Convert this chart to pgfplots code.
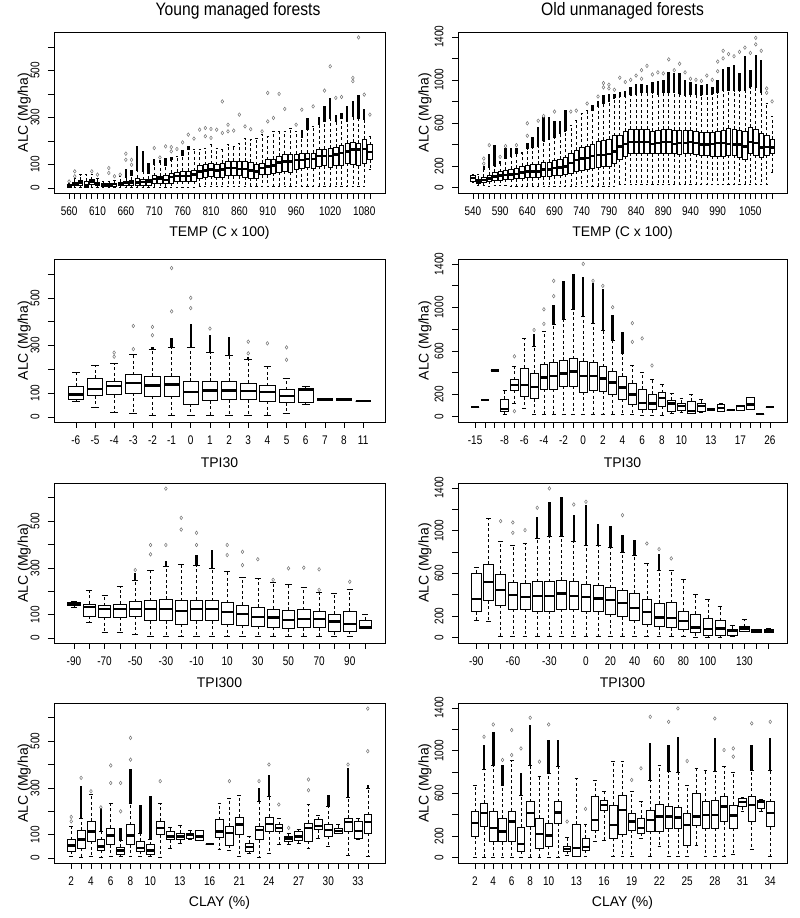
\documentclass[border=0pt]{standalone}
\usepackage{fontspec}
\setmainfont{Liberation Sans}
\newfontfamily\tickfont{Liberation Sans}[FakeStretch=0.8]
\newfontfamily\titlefont{Liberation Sans}[FakeStretch=0.87]
\usepackage{pgfplots}
\usepackage{pgfplotstable}
\pgfplotsset{compat=1.18}
\usepgfplotslibrary{statistics}

% ---------- data: x lw q1 med q3 uw dense-top outlier1 outlier2 ----------
\pgfplotstableread{
x lw q1 med q3 uw dhi o1 o2
1 3 4 10 17 21 21 28 nan
2 5 11 18 26 40 40 71 50
3 5 11 24 33 57 57 nan nan
4 2 4 10 28 57 57 nan nan
5 5 14 27 35 57 57 71 nan
6 4 10 17 24 43 43 57 nan
7 4 8 13 18 28 28 nan nan
8 4 8 13 18 30 30 85 64
9 4 8 16 20 35 35 50 nan
10 4 10 17 24 50 50 57 nan
11 4 10 21 28 45 80 146 120
12 4 10 24 33 55 78 120 99
13 5 10 24 43 75 177 nan nan
14 5 10 26 35 70 156 nan nan
15 5 12 28 38 64 106 nan nan
16 5 18 38 52 100 125 170 nan
17 5 21 40 50 110 120 130 nan
18 5 18 35 52 95 128 177 nan
19 5 21 47 64 120 130 174 156
20 5 28 50 67 135 135 166 nan
21 5 28 50 71 140 160 194 nan
22 5 28 50 71 163 180 227 nan
23 5 28 57 74 163 163 210 nan
24 8 43 71 95 163 163 248 nan
25 8 47 74 99 170 170 255 220
26 8 50 78 103 184 184 251 213
27 8 47 75 99 170 170 248 nan
28 8 47 78 106 163 163 368 234
29 8 52 85 113 184 184 269 241
30 8 52 85 113 177 177 244 nan
31 8 52 82 113 191 191 312 nan
32 8 47 81 113 210 210 262 nan
33 8 43 74 109 206 206 250 nan
34 8 43 71 99 213 213 nan nan
35 8 57 85 106 227 227 241 nan
36 8 57 92 120 220 220 404 283
37 8 64 95 123 241 241 298 nan
38 8 67 109 135 241 241 400 nan
39 8 71 113 145 241 241 336 nan
40 8 67 113 142 255 255 nan nan
41 8 78 120 145 241 241 269 nan
42 8 85 120 149 215 248 333 nan
43 8 88 123 149 248 298 nan nan
44 8 85 123 149 262 262 347 nan
45 8 92 135 163 269 300 nan nan
46 8 95 135 166 283 347 414 nan
47 8 90 137 170 298 383 517 nan
48 8 95 142 174 283 310 383 nan
49 8 95 149 180 298 320 387 nan
50 8 106 156 191 283 347 nan nan
51 8 99 163 194 305 368 454 468
52 8 95 163 191 298 397 640 nan
53 8 103 166 208 291 336 397 nan
54 78 120 152 184 220 220 312 nan
}\tA

\pgfplotstableread{
x lw q1 med q3 uw dhi o1 o2
1 50 59 87 112 122 122 nan nan
2 20 34 56 78 122 122 nan nan
3 15 45 70 95 170 200 268 221
4 10 55 84 115 190 315 393 nan
5 15 65 102 140 200 393 nan nan
6 15 70 109 145 220 250 284 nan
7 15 75 115 160 270 362 384 nan
8 10 75 121 170 290 362 nan nan
9 10 80 127 180 320 370 393 nan
10 10 85 140 200 315 330 nan nan
11 10 90 146 205 360 410 596 480
12 10 90 149 210 370 470 nan nan
13 10 95 149 215 380 565 620 nan
14 10 100 165 230 430 658 664 nan
15 10 100 165 235 450 658 nan nan
16 10 110 180 250 470 620 705 nan
17 10 115 186 260 500 620 nan nan
18 10 120 196 275 520 720 nan nan
19 10 130 226 320 580 580 705 nan
20 10 150 257 345 620 620 714 nan
21 10 160 270 370 690 690 nan nan
22 10 170 276 380 720 720 780 nan
23 10 180 290 400 720 767 nan nan
24 10 190 301 430 750 800 845 nan
25 10 200 304 440 780 860 970 930
26 10 200 313 450 800 870 955 920
27 10 220 335 480 830 870 908 nan
28 25 260 382 480 845 890 1020 nan
29 25 290 406 520 850 900 980 nan
30 25 320 420 540 860 930 1000 nan
31 25 320 420 540 870 960 1040 nan
32 25 320 420 540 880 960 1090 1010
33 25 320 420 540 880 950 1130 nan
34 25 315 404 520 880 980 1050 nan
35 25 320 413 530 870 990 1070 nan
36 25 320 420 540 880 1000 1060 nan
37 25 320 420 540 880 1070 1190 nan
38 25 315 404 530 880 1060 1090 nan
39 25 310 413 530 870 1060 1150 nan
40 25 315 413 530 860 1000 1070 nan
41 25 320 420 530 870 980 1010 nan
42 25 310 413 520 870 960 1000 nan
43 25 300 398 510 860 950 990 nan
44 25 300 398 510 870 960 1040 nan
45 25 290 404 510 870 930 1000 nan
46 25 290 413 520 880 1000 1170 1080
47 25 290 413 530 900 1100 1270 1200
48 25 300 404 550 900 1120 1240 nan
49 25 300 398 540 900 1140 1220 nan
50 25 280 398 530 900 1060 1260 nan
51 25 260 382 520 900 1220 1300 nan
52 25 320 420 560 930 1090 1250 nan
53 25 300 413 540 930 1230 1390 1330
54 25 280 371 500 880 1180 1270 nan
55 30 300 376 480 780 780 920 880
56 140 320 371 450 660 660 800 nan
}\tB

\pgfplotstableread{
x lw q1 med q3 uw dhi o1 o2
1 66 76 94 129 188 188 nan nan
2 39 90 118 163 216 216 nan nan
3 18 94 129 150 226 226 270 253
4 14 101 143 177 265 265 382 285
5 8 87 132 170 285 295 378 343
6 8 87 137 170 292 330 625 443
7 8 55 105 150 292 392 500 457
8 8 69 111 150 270 343 371 nan
9 8 73 112 150 260 336 nan nan
10 8 73 108 143 244 250 316 267
11 8 66 105 132 212 212 309 nan
12 14 60 87 115 163 163 292 240
13 53 62 115 122 129 129 nan nan
14 73 73 73 73 73 73 nan nan
15 73 73 73 73 73 73 nan nan
16 66 66 66 66 66 66 nan nan
}\tC

\pgfplotstableread{
x lw q1 med q3 uw dhi o1 o2
1 87 87 87 87 87 87 nan nan
2 149 149 149 149 149 149 nan nan
3 420 420 420 420 420 420 nan nan
4 16 45 68 156 240 240 nan nan
5 118 240 286 336 457 457 551 47
6 72 180 286 445 716 716 nan nan
7 16 162 268 395 647 756 793 nan
8 16 249 358 476 784 784 849 983
9 16 249 373 498 849 1027 1244 1104
10 16 274 395 513 893 1244 nan nan
11 16 274 411 529 980 1307 nan nan
12 16 224 373 504 918 1276 1400 nan
13 16 240 373 492 856 1229 1244 nan
14 16 233 348 457 793 1167 1198 nan
15 16 202 311 417 700 933 1002 nan
16 16 156 264 367 576 778 nan nan
17 16 109 202 305 467 467 856 684
18 9 62 124 249 404 404 716 nan
19 9 62 118 202 342 342 467 nan
20 9 93 171 218 296 296 nan nan
21 25 47 118 149 212 212 nan nan
22 40 56 93 124 162 162 nan nan
23 25 31 47 140 202 202 nan nan
24 40 47 93 124 156 156 nan nan
25 62 62 62 62 62 62 nan nan
26 47 47 78 109 124 124 nan nan
27 56 56 56 56 56 56 nan nan
28 53 53 93 100 100 100 nan nan
29 62 62 109 177 177 177 nan nan
30 22 22 22 22 22 22 nan nan
31 84 84 84 84 84 84 nan nan
}\tD

\pgfplotstableread{
x lw q1 med q3 uw dhi o1 o2
1 132 139 146 152 156 156 nan nan
2 67 95 132 146 203 203 nan nan
3 24 89 124 139 185 185 nan nan
4 24 89 124 146 220 220 nan nan
5 18 94 125 156 246 280 291 nan
6 7 74 125 160 291 291 398 358
7 7 74 125 166 305 330 639 398
8 7 60 116 160 315 315 514 464
9 7 74 125 163 312 355 450 398
10 7 74 124 160 298 376 nan nan
11 7 60 111 152 284 284 398 355
12 7 54 102 142 260 260 369 312
13 7 50 89 132 256 256 337 nan
14 7 47 88 125 237 237 249 nan
15 7 40 78 118 230 230 298 nan
16 7 45 82 121 217 217 301 nan
17 7 45 82 114 196 196 294 206
18 7 28 71 102 192 192 nan nan
19 7 31 61 114 209 209 241 nan
20 40 43 47 78 102 102 nan nan
}\tE

\pgfplotstableread{
x lw q1 med q3 uw dhi o1 o2
1 156 240 359 599 655 655 nan nan
2 147 343 521 686 1113 1113 nan nan
3 12 302 443 592 904 904 1088 nan
4 12 265 396 514 864 864 1076 979
5 12 262 380 505 879 879 1004 nan
6 12 249 390 521 926 1129 1213 nan
7 12 249 390 521 942 1269 1394 nan
8 12 262 412 536 942 1316 nan nan
9 12 262 390 527 901 1144 1244 nan
10 12 249 380 496 864 1238 1269 nan
11 12 240 365 483 864 1066 nan nan
12 12 215 349 465 839 1045 nan nan
13 12 193 324 437 801 960 1144 nan
14 12 162 278 412 770 910 nan nan
15 12 122 240 359 692 692 879 nan
16 12 100 187 318 630 780 826 nan
17 12 90 184 324 624 624 739 nan
18 12 78 156 249 543 543 nan nan
19 0 44 94 218 402 402 nan nan
20 0 22 78 178 355 355 nan nan
21 0 22 84 156 287 287 nan nan
22 12 22 62 78 115 115 nan nan
23 53 53 84 100 172 172 nan nan
24 47 47 62 75 75 75 nan nan
25 47 47 62 75 84 84 nan nan
}\tF

\pgfplotstableread{
x lw q1 med q3 uw dhi o1 o2
1 7 31 53 79 136 136 176 157
2 4 43 79 119 171 307 343 nan
3 7 71 114 157 271 271 286 nan
4 4 33 50 79 114 214 217 nan
5 7 57 96 129 233 233 396 321
6 7 14 33 47 74 129 200 321
7 7 57 96 143 236 379 514 421
8 7 29 43 71 104 229 nan nan
9 7 14 33 57 79 264 nan nan
10 4 100 129 157 236 236 329 nan
11 43 79 93 114 133 133 nan nan
12 64 79 93 107 140 140 nan nan
13 79 86 100 107 119 119 nan nan
14 74 74 93 117 117 117 nan nan
15 60 60 60 60 60 60 nan nan
16 39 89 114 164 236 236 nan nan
17 33 54 107 136 257 257 329 nan
18 7 100 143 174 269 269 nan nan
19 19 29 47 64 93 93 nan nan
20 4 79 119 136 243 300 329 nan
21 19 114 146 176 264 357 400 nan
22 57 114 129 143 171 171 229 nan
23 57 71 83 93 107 107 129 nan
24 65 76 93 114 121 121 nan nan
25 43 71 129 150 229 229 336 290
26 86 121 136 164 185 185 nan nan
27 50 93 119 143 221 271 nan nan
28 104 107 117 129 143 143 nan nan
29 11 114 154 171 260 386 400 nan
30 79 86 117 157 171 171 nan nan
31 7 107 153 186 300 314 639 457
}\tG

\pgfplotstableread{
x lw q1 med q3 uw dhi o1 o2
1 0 202 320 429 672 672 nan nan
2 0 289 414 507 828 1052 1129 nan
3 0 149 274 436 865 1176 1244 nan
4 0 149 243 367 678 865 912 nan
5 0 149 336 436 905 905 1192 958
6 0 56 124 283 585 787 1020 nan
7 0 289 414 523 865 1238 1307 nan
8 0 87 218 367 756 756 896 nan
9 0 103 205 320 787 1098 1244 nan
10 0 320 420 523 849 1098 nan nan
11 19 56 78 103 187 187 336 nan
12 9 9 87 311 740 740 nan nan
13 9 65 96 180 311 311 454 nan
14 150 258 352 569 725 725 nan nan
15 160 445 492 538 622 622 nan nan
16 9 180 305 492 896 896 nan nan
17 9 218 445 585 902 902 nan nan
18 9 258 336 414 622 622 725 nan
19 180 227 274 367 523 523 834 nan
20 9 243 352 445 725 1067 1316 nan
21 103 243 383 498 865 865 nan nan
22 9 268 383 482 809 1052 1269 nan
23 9 268 373 467 797 1129 1394 nan
24 9 118 305 414 678 678 902 nan
25 118 299 383 600 834 834 nan nan
26 9 274 398 523 818 818 nan nan
27 9 274 398 538 809 1114 1300 nan
28 9 336 476 576 849 849 1005 nan
29 30 274 392 492 797 797 1020 943
30 429 476 516 554 560 560 nan nan
31 72 336 492 569 818 1052 1254 nan
32 429 460 516 538 545 545 nan nan
33 9 289 414 523 818 1114 1269 nan
}\tH

% ---------- drawing helpers ----------
\newcommand\drawboxes[1]{%
  \pgfplotstablegetrowsof{#1}%
  \pgfmathtruncatemacro\lastrow{\pgfplotsretval-1}%
  \pgfplotsforeachungrouped \rowi in {0,...,\lastrow}{%
    \pgfplotstablegetelem{\rowi}{x}\of{#1}\edef\bX{\pgfplotsretval}%
    \pgfplotstablegetelem{\rowi}{lw}\of{#1}\edef\bLW{\pgfplotsretval}%
    \pgfplotstablegetelem{\rowi}{q1}\of{#1}\edef\bQA{\pgfplotsretval}%
    \pgfplotstablegetelem{\rowi}{med}\of{#1}\edef\bMD{\pgfplotsretval}%
    \pgfplotstablegetelem{\rowi}{q3}\of{#1}\edef\bQB{\pgfplotsretval}%
    \pgfplotstablegetelem{\rowi}{uw}\of{#1}\edef\bUW{\pgfplotsretval}%
    \edef\doplot{\noexpand\addplot[rbx, boxplot prepared={draw position=\bX, lower whisker=\bLW, lower quartile=\bQA, median=\bMD, upper quartile=\bQB, upper whisker=\bUW}] coordinates {};}%
    \doplot
  }%
}
\newcommand\drawextras[1]{%
  \addplot[draw=none, mark=none, error bars/.cd, y dir=plus, y explicit,
    error mark=none, error bar style={draw=black, solid, line width=2.5pt}]
    table[x=x, y=uw, y error expr={\thisrow{dhi}-\thisrow{uw}}] {#1};
  \addplot[only marks, mark=diamond, mark size=1.8pt,
    mark options={draw=black!55, line width=0.5pt, fill=none}] table[x=x, y=o1] {#1};
  \addplot[only marks, mark=diamond, mark size=1.8pt,
    mark options={draw=black!55, line width=0.5pt, fill=none}] table[x=x, y=o2] {#1};
}

\pgfplotsset{
  rbx/.style={black, line width=0.6pt, solid},
  boxplot/draw direction=y,
  boxplot/box extend=0.8,
  boxplot/whisker extend=0.4,
  boxplot/every box/.style={draw=black, fill=white, line width=0.65pt},
  boxplot/every median/.style={draw=black, line width=2.4pt},
  boxplot/draw/lower whisker/.code={%
    \draw[black, line width=0.6pt, dash pattern=on 3pt off 2.5pt]
      (boxplot cs:\pgfplotsboxplotvalue{lower quartile}) -- (boxplot cs:\pgfplotsboxplotvalue{lower whisker});
    \draw[black, line width=0.6pt, solid]
      (boxplot whisker cs:\pgfplotsboxplotvalue{lower whisker},0) -- (boxplot whisker cs:\pgfplotsboxplotvalue{lower whisker},1);
  },
  boxplot/draw/upper whisker/.code={%
    \draw[black, line width=0.6pt, dash pattern=on 3pt off 2.5pt]
      (boxplot cs:\pgfplotsboxplotvalue{upper quartile}) -- (boxplot cs:\pgfplotsboxplotvalue{upper whisker});
    \draw[black, line width=0.6pt, solid]
      (boxplot whisker cs:\pgfplotsboxplotvalue{upper whisker},0) -- (boxplot whisker cs:\pgfplotsboxplotvalue{upper whisker},1);
  },
  rpanel/.style={
    scale only axis, anchor=south west,
    axis line style={line width=0.7pt},
    tick align=outside, tick pos=left,
    major tick length=6pt,
    tick style={black, line width=0.6pt},
    xticklabels={}, yticklabels={},
    xticklabel shift=4pt, yticklabel shift=5pt,
    xticklabel style={font=\tickfont\fontsize{12.5pt}{13pt}\selectfont},
    yticklabel style={font=\tickfont\fontsize{12.5pt}{13pt}\selectfont, rotate=90, anchor=south},
    label style={font=\fontsize{14pt}{16pt}\selectfont},
    xlabel style={at={(axis description cs:0.5,-0.25)}, anchor=center},
    title style={font=\titlefont\fontsize{18pt}{20pt}\selectfont, anchor=center},
  },
  leftpanel/.style={rpanel, width=331pt,
    ymin=-21, ymax=663, ytick={0,100,...,600},
    extra y ticks={0,100,300,500}, extra y tick labels={0,100,300,500},
    ylabel={ALC (Mg/ha)},
    ylabel style={at={(axis description cs:-0.09,0.5)}, anchor=center}},
  rightpanel/.style={rpanel, width=329pt,
    ymin=-52, ymax=1445, ytick={0,200,...,1400},
    extra y ticks={0,200,600,1000,1400}, extra y tick labels={0,200,600,1000,1400},
    ylabel={ALC (Mg/ha)},
    ylabel style={at={(axis description cs:-0.1,0.5)}, anchor=center}},
}

\begin{document}
\begin{tikzpicture}
\useasboundingbox (0pt,0pt) rectangle (800pt,918pt);

% ---- row 1 ----
\begin{axis}[leftpanel, at={(54pt,725pt)}, height=161pt,
  xmin=-1.66, xmax=56.66, xtick={1,...,54},
  extra x ticks={1,6,11,16,21,26,31,36,41,47,53},
  extra x tick labels={560,610,660,710,760,810,860,910,960,1020,1080},
  xlabel={TEMP (C x 100)},
  title={Young managed forests}, title style={at={(axis description cs:0.556,1.093)}}]
\drawboxes{\tA}
\drawextras{\tA}
\end{axis}

\begin{axis}[rightpanel, at={(458pt,725pt)}, height=161pt,
  xmin=-1.74, xmax=58.74, xtick={1,...,56},
  extra x ticks={1,6,11,16,21,26,31,36,41,46,52},
  extra x tick labels={540,590,640,690,740,790,840,890,940,990,1050},
  xlabel={TEMP (C x 100)},
  title={Old unmanaged forests}, title style={at={(axis description cs:0.5,1.093)}}]
\drawboxes{\tB}
\drawextras{\tB}
\end{axis}

% ---- row 2 ----
\begin{axis}[leftpanel, at={(54pt,496pt)}, height=163pt,
  xmin=-0.14, xmax=17.14, xtick={1,...,16},
  extra x ticks={1,...,16},
  extra x tick labels={-6,-5,-4,-3,-2,-1,0,1,2,3,4,5,6,7,8,11},
  xlabel={TPI30}]
\drawboxes{\tC}
\drawextras{\tC}
\end{axis}

\begin{axis}[rightpanel, at={(458pt,496pt)}, height=163pt,
  xmin=-0.74, xmax=32.74, xtick={1,...,31},
  extra x ticks={1,4,6,8,10,12,14,16,18,20,22,25,28,31},
  extra x tick labels={-15,-8,-6,-4,-2,0,2,4,6,8,10,13,17,26},
  xlabel={TPI30}]
\drawboxes{\tD}
\drawextras{\tD}
\end{axis}

% ---- row 3 ----
\begin{axis}[leftpanel, at={(54pt,275pt)}, height=160pt,
  xmin=-0.3, xmax=21.3, xtick={1,...,20},
  extra x ticks={1,3,5,7,9,11,13,15,17,19},
  extra x tick labels={-90,-70,-50,-30,-10,10,30,50,70,90},
  xlabel={TPI300}]
\drawboxes{\tE}
\drawextras{\tE}
\end{axis}

\begin{axis}[rightpanel, at={(458pt,275pt)}, height=160pt,
  xmin=-0.5, xmax=26.5, xtick={1,...,25},
  extra x ticks={1,4,7,10,12,14,16,18,20,23},
  extra x tick labels={-90,-60,-30,0,20,40,60,80,100,130},
  xlabel={TPI300}]
\drawboxes{\tF}
\drawextras{\tF}
\end{axis}

% ---- row 4 ----
\begin{axis}[leftpanel, at={(54pt,55pt)}, height=160pt,
  xmin=-0.74, xmax=32.74, xtick={1,...,31},
  extra x ticks={1,3,5,7,9,12,15,18,21,24,27,30},
  extra x tick labels={2,4,6,8,10,13,16,21,24,27,30,33},
  xlabel={CLAY (\%)}]
\drawboxes{\tG}
\drawextras{\tG}
\end{axis}

\begin{axis}[rightpanel, at={(458pt,55pt)}, height=160pt,
  xmin=-0.82, xmax=34.82, xtick={1,...,33},
  extra x ticks={1,3,5,7,9,12,15,18,21,24,27,30,33},
  extra x tick labels={2,4,6,8,10,13,16,19,22,25,28,31,34},
  xlabel={CLAY (\%)}]
\drawboxes{\tH}
\drawextras{\tH}
\end{axis}
\end{tikzpicture}
\end{document}
